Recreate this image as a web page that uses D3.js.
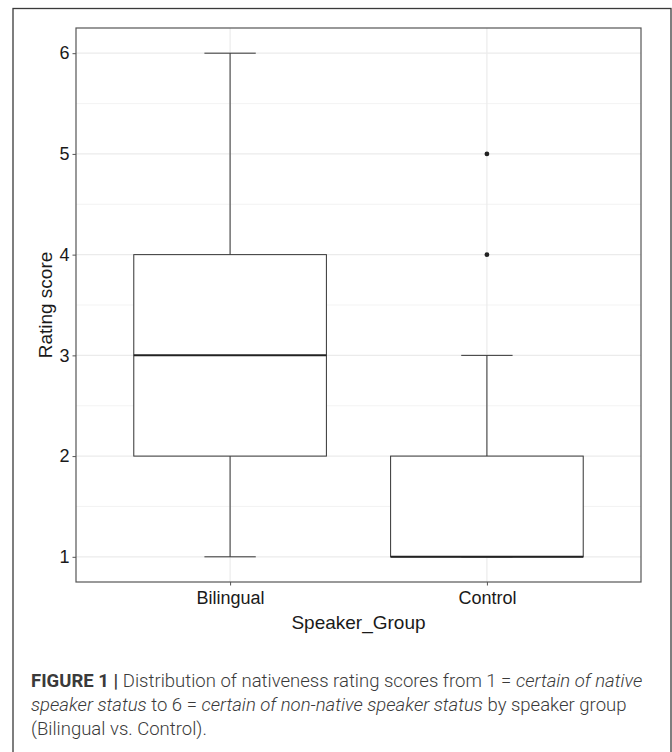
<!DOCTYPE html>
<html>
<head>
<meta charset="utf-8">
<script src="https://cdn.jsdelivr.net/npm/d3@7"></script>
<style>
  html, body { margin: 0; padding: 0; background: #fff; }
  svg { display: block; }
</style>
</head>
<body>
<svg id="chart" width="672" height="752"></svg>
<script>
// ---- data ----
const categories = ["Bilingual", "Control"];
const whiskerLow = [1, 1];
const q1 = [2, 1];
const median = [3, 1];
const q3 = [4, 2];
const whiskerHigh = [6, 3];
const outliers = [[], [4, 5]];
const yTicks = [1, 2, 3, 4, 5, 6];
const yMinor = [1.5, 2.5, 3.5, 4.5, 5.5];

(function () {
const svg = d3.select("#chart");

// outer frame
svg.append("rect")
  .attr("x", 13).attr("y", 8.5).attr("width", 658).attr("height", 760)
  .attr("fill", "none").attr("stroke", "#3a3a3a").attr("stroke-width", 1.3);

const pL = 76, pR = 641, pT = 28, pB = 582;

const x = d3.scalePoint().domain(categories).range([pL, pR]).padding(0.6);
const y = d3.scaleLinear().domain([0.75, 6.25]).range([pB, pT]);
const step = x.step();

const g = svg.append("g");

// grid
g.selectAll(".minor").data(yMinor).join("line")
  .attr("x1", pL).attr("x2", pR)
  .attr("y1", d => y(d)).attr("y2", d => y(d))
  .attr("stroke", "#f0f0f0").attr("stroke-width", 0.8);
g.selectAll(".major").data(yTicks).join("line")
  .attr("x1", pL).attr("x2", pR)
  .attr("y1", d => y(d)).attr("y2", d => y(d))
  .attr("stroke", "#ebebeb").attr("stroke-width", 1.2);
g.selectAll(".vmajor").data(categories).join("line")
  .attr("x1", d => x(d)).attr("x2", d => x(d))
  .attr("y1", pT).attr("y2", pB)
  .attr("stroke", "#ebebeb").attr("stroke-width", 1.2);

// boxplots
const boxW = 0.75 * step, capW = 0.2 * step;
const stroke = "#333";
categories.forEach((c, i) => {
  const cx = x(c);
  g.append("line").attr("x1", cx).attr("x2", cx)
    .attr("y1", y(q3[i])).attr("y2", y(whiskerHigh[i]))
    .attr("stroke", stroke).attr("stroke-width", 1);
  g.append("line").attr("x1", cx).attr("x2", cx)
    .attr("y1", y(q1[i])).attr("y2", y(whiskerLow[i]))
    .attr("stroke", stroke).attr("stroke-width", 1);
  [whiskerHigh[i], whiskerLow[i]].forEach(v => {
    g.append("line").attr("x1", cx - capW / 2).attr("x2", cx + capW / 2)
      .attr("y1", y(v)).attr("y2", y(v))
      .attr("stroke", stroke).attr("stroke-width", 1);
  });
  g.append("rect")
    .attr("x", cx - boxW / 2).attr("width", boxW)
    .attr("y", y(q3[i])).attr("height", y(q1[i]) - y(q3[i]))
    .attr("fill", "#fff").attr("stroke", stroke).attr("stroke-width", 1);
  g.append("line").attr("x1", cx - boxW / 2).attr("x2", cx + boxW / 2)
    .attr("y1", y(median[i])).attr("y2", y(median[i]))
    .attr("stroke", "#222").attr("stroke-width", 2);
  g.selectAll(null).data(outliers[i]).join("circle")
    .attr("cx", cx).attr("cy", d => y(d)).attr("r", 2.4)
    .attr("fill", "#222");
});

// panel border
svg.append("rect")
  .attr("x", pL).attr("y", pT).attr("width", pR - pL).attr("height", pB - pT)
  .attr("fill", "none").attr("stroke", "#555").attr("stroke-width", 1.2);

// axes
const font = "'Liberation Sans', Arial, sans-serif";
const yAxis = svg.append("g").attr("transform", `translate(${pL},0)`)
  .call(d3.axisLeft(y).tickValues(yTicks).tickSize(3.5).tickPadding(3).tickFormat(d3.format("d")));
const xAxis = svg.append("g").attr("transform", `translate(0,${pB})`)
  .call(d3.axisBottom(x).tickSize(3.5).tickPadding(4));
[yAxis, xAxis].forEach(a => {
  a.select(".domain").remove();
  a.selectAll(".tick line").attr("stroke", "#555");
  a.selectAll(".tick text").attr("fill", "#1a1a1a")
    .style("font-family", font).style("font-size", "18px");
});
xAxis.selectAll(".tick text").attr("dy", "0.71em").attr("y", 9);

// axis titles
svg.append("text")
  .attr("x", (pL + pR) / 2).attr("y", 629)
  .attr("text-anchor", "middle")
  .style("font-family", font).style("font-size", "19px").attr("fill", "#1a1a1a")
  .text("Speaker_Group");
svg.append("text")
  .attr("transform", `translate(52,${(pT + pB) / 2}) rotate(-90)`)
  .attr("text-anchor", "middle")
  .style("font-family", font).style("font-size", "19px").attr("fill", "#1a1a1a")
  .text("Rating score");

// caption
const capLines = [
  [["FIGURE 1 | ", "bold"], ["Distribution of nativeness rating scores from 1 = ", "normal"], ["certain of native", "italic"]],
  [["speaker status", "italic"], [" to 6 = ", "normal"], ["certain of non-native speaker status", "italic"], [" by speaker group", "normal"]],
  [["(Bilingual vs. Control).", "normal"]]
];
const capBase = [687, 711, 735];
const capTexts = capLines.map((line, li) => {
  const t = svg.append("text")
    .attr("x", 31).attr("y", capBase[li])
    .attr("fill", "#3a3a3a")
    .style("font-family", "Roboto, 'Liberation Sans', sans-serif")
    .style("font-weight", 300)
    .style("font-size", "18px")
    .attr("xml:space", "preserve");
  line.forEach(([s, st]) => {
    const sp = t.append("tspan").text(s);
    if (st === "bold") sp.style("font-weight", 700);
    if (st === "italic") sp.style("font-style", "italic");
  });
  return t;
});
const w0 = capTexts[0].node().getComputedTextLength();
const fs = 18 * 612 / w0;
capTexts.forEach(t => t.style("font-size", fs + "px"));
})();
</script>
</body>
</html>
